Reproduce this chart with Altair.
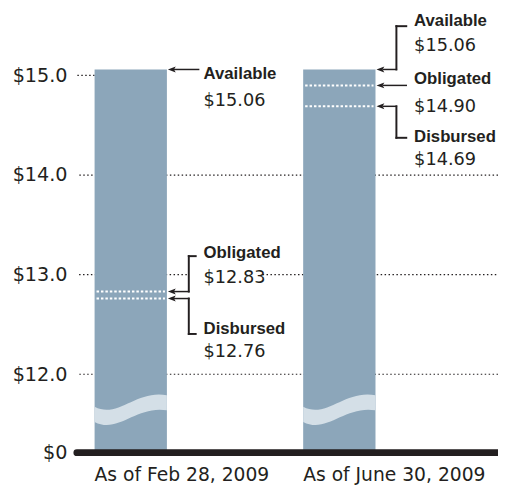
import altair as alt
import pandas as pd

# ---------------- data ----------------
dates = ["As of Feb 28, 2009", "As of June 30, 2009"]
available = [15.06, 15.06]
obligated = [12.83, 14.90]
disbursed = [12.76, 14.69]
grid_values = [12.0, 13.0, 14.0, 15.0]
axis_floor = 11.2125      # broken axis: this value is drawn as the "$0" baseline
axis_top = 15.6385
wave_at = 11.63           # where the axis-break wave crosses the bars

# ---------------- style ----------------
W, H = 428, 448
HW = 36.75                # half bar width (px)
BAR = "#8ca6ba"
WAVE = "#d4dfe7"
INK = "#231f20"
FONT = "DejaVu Sans"
LABEL_FONT = "Liberation Sans"
WAVE_PATH = "M-1,-0.12 C-0.35,0.22 0.15,-0.6 1,-0.44 L1,-0.02 C0.15,-0.16 -0.35,0.64 -1,0.3 Z"
ARROW_PATH = "M-1,0 L1,-0.75 L0.55,0 L1,0.75 Z"

xscale = alt.Scale(domain=dates, paddingInner=0.6533, paddingOuter=0.3361, align=0.1263)
yscale = alt.Scale(domain=[axis_floor, axis_top], nice=False, zero=False)

xaxis = alt.Axis(title=None, labelAlign="left", labelBaseline="top", labelOffset=-HW,
                 labelAngle=0, labelLimit=400, labelOverlap=False,
                 labelPadding=13, ticks=False, domain=False, grid=False,
                 labelFont=FONT, labelFontSize=19, labelColor=INK)
yaxis = alt.Axis(title=None, values=[axis_floor] + grid_values,
                 labelExpr="datum.value < 12 ? '$0' : '$' + format(datum.value, '.1f')",
                 ticks=False, domain=False, grid=False, labelPadding=10,
                 labelFont=FONT, labelFontSize=19.5, labelColor=INK)


def X(**kw):
    return alt.X("date:N", scale=xscale, axis=xaxis, **kw)


def X2():
    return alt.X2("date:N", bandPosition=0.5)


def Y():
    return alt.Y("v:Q", scale=yscale, axis=yaxis)


def one(i, v):
    return pd.DataFrame({"date": [dates[i]], "v": [v]})


DOT = dict(color=INK, strokeWidth=1.2, strokeDash=[1.5, 2.5])

layers = []

# gridlines (full for 12 and 14, broken around annotations for 13 and 15)
layers.append(alt.Chart(pd.DataFrame({"v": [grid_values[0], grid_values[2]]}))
              .mark_rule(**DOT).encode(y=Y()))
layers.append(alt.Chart(one(0, grid_values[1])).mark_rule(xOffset=57, **DOT)
              .encode(x=X(bandPosition=0.5), x2=alt.value(0), y=Y()))
layers.append(alt.Chart(one(0, grid_values[1])).mark_rule(xOffset=134, **DOT)
              .encode(x=X(bandPosition=0.5), x2=alt.value(W), y=Y()))
layers.append(alt.Chart(one(0, grid_values[3])).mark_rule(xOffset=-HW, **DOT)
              .encode(x=X(bandPosition=0.5), x2=alt.value(0), y=Y()))

# bars
bars_df = pd.DataFrame({"date": dates, "v": available, "v0": [axis_floor] * 2})
layers.append(alt.Chart(bars_df).mark_bar(color=BAR)
              .encode(x=X(), y=Y(), y2=alt.Y2("v0:Q")))

# axis-break wave
wave_df = pd.DataFrame({"date": dates, "v": [wave_at] * 2})
layers.append(alt.Chart(wave_df).mark_point(shape=WAVE_PATH, size=(2 * HW) ** 2, filled=True,
                                            color=WAVE, opacity=1, strokeWidth=0)
              .encode(x=X(bandPosition=0.5), y=Y()))

# dashed white lines (obligated / disbursed) inside the bars
dash_df = pd.DataFrame({"date": dates + dates, "v": obligated + disbursed})
layers.append(alt.Chart(dash_df).mark_rule(color="white", strokeWidth=2, strokeDash=[2.5, 2],
                                           xOffset=-HW + 2, x2Offset=HW - 2)
              .encode(x=X(bandPosition=0.5), x2=X2(), y=Y()))

# thick baseline
layers.append(alt.Chart(pd.DataFrame({"v": [axis_floor]}))
              .mark_rule(color=INK, strokeWidth=7, strokeCap="round").encode(y=Y()))


# ---------------- annotation helpers ----------------
def hline(i, v, dx1, dx2, dy=0, sw=1.5):
    return (alt.Chart(one(i, v))
            .mark_rule(color=INK, strokeWidth=sw, strokeCap="square",
                       xOffset=dx1, x2Offset=dx2, yOffset=dy)
            .encode(x=X(bandPosition=0.5), x2=X2(), y=Y()))


def vline(i, v, dx, dy1, dy2, sw=2):
    return (alt.Chart(one(i, v))
            .mark_rule(color=INK, strokeWidth=sw, strokeCap="square",
                       xOffset=dx, yOffset=dy1, y2Offset=dy2)
            .encode(x=X(bandPosition=0.5), y=Y(), y2=alt.Y2("v:Q")))


def head(i, v):
    return (alt.Chart(one(i, v))
            .mark_point(shape=ARROW_PATH, size=64, filled=True, color=INK, opacity=1,
                        strokeWidth=0, xOffset=HW + 5)
            .encode(x=X(bandPosition=0.5), y=Y()))


def label(i, v, s, dx, dy, bold):
    if bold:
        style = dict(font=LABEL_FONT, fontSize=17, fontWeight="bold")
    else:
        style = dict(font=FONT, fontSize=18, fontWeight="normal")
    return (alt.Chart(one(i, v))
            .mark_text(text=s, align="left", baseline="middle", dx=dx, dy=dy, color=INK, **style)
            .encode(x=X(bandPosition=0.5), y=Y()))


def money(v):
    return "$" + f"{v:.2f}"


# left bar (Feb 28, 2009)
v = available[0]
layers += [hline(0, v, HW + 8, 69), head(0, v),
           label(0, v, "Available", 74, 5, True), label(0, v, money(v), 74, 32, False)]
v = obligated[0]
layers += [hline(0, v, HW + 8, 59), head(0, v), vline(0, v, 59, 0, -36),
           hline(0, v, 59, 66, -36, 2),
           label(0, v, "Obligated", 74, -39, True), label(0, v, money(v), 74, -14, False)]
v = disbursed[0]
layers += [hline(0, v, HW + 8, 59), head(0, v), vline(0, v, 59, 0, 36),
           hline(0, v, 59, 66, 36, 2),
           label(0, v, "Disbursed", 74, 31, True), label(0, v, money(v), 74, 54, False)]

# right bar (June 30, 2009)
v = available[1]
layers += [hline(1, v, HW + 8, 58), head(1, v), vline(1, v, 58, 0, -44),
           hline(1, v, 58, 68, -44, 2),
           label(1, v, "Available", 76, -49, True), label(1, v, money(v), 76, -24, False)]
v = obligated[1]
layers += [hline(1, v, HW + 8, 68), head(1, v),
           label(1, v, "Obligated", 76, -6, True), label(1, v, money(v), 76, 22, False)]
v = disbursed[1]
layers += [hline(1, v, HW + 8, 58), head(1, v), vline(1, v, 58, 0, 32),
           hline(1, v, 58, 68, 32, 2),
           label(1, v, "Disbursed", 76, 31, True), label(1, v, money(v), 76, 55, False)]

chart = (alt.layer(*layers)
         .properties(width=W, height=H,
                     autosize=alt.AutoSizeParams(type="none"),
                     padding={"left": 70, "top": 0, "right": 0, "bottom": 32})
         .configure_view(stroke=None))

chart.save("out.html", embed_options={"renderer": "svg", "actions": False})
